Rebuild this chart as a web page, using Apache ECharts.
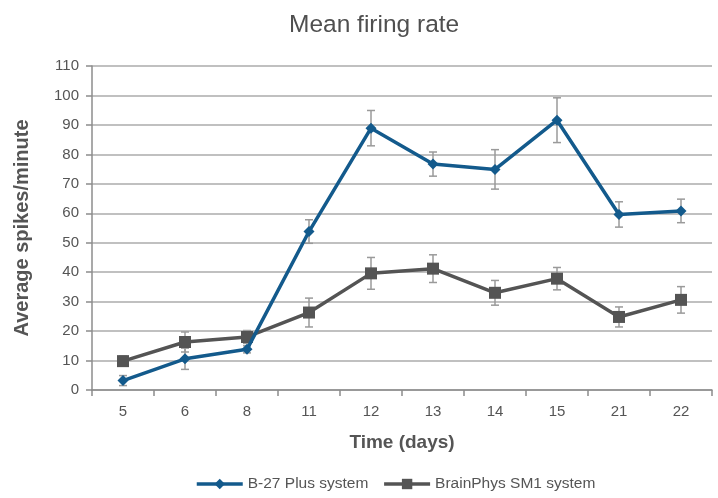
<!DOCTYPE html>
<html><head><meta charset="utf-8">
<script src="https://cdn.jsdelivr.net/npm/echarts@6/dist/echarts.min.js"></script>
<style>html,body{margin:0;padding:0;background:#fff}#c{width:718px;height:498px}</style>
</head><body><div id="c"></div>
<script>
const categories = ['5','6','8','11','12','13','14','15','21','22'];
const b27Values = [3.2, 10.6, 13.8, 53.8, 88.9, 76.7, 74.9, 91.6, 59.6, 60.8];
const b27Errors = [1.7, 3.6, 1.2, 4.0, 6.0, 4.1, 6.7, 7.6, 4.3, 4.0];
const smValues = [9.8, 16.3, 18.0, 26.3, 39.6, 41.2, 33.0, 37.8, 24.8, 30.6];
const smErrors = [1.7, 3.4, 2.2, 4.9, 5.4, 4.7, 4.2, 3.8, 3.4, 4.5];
const yMin = 0, yMax = 110, yStep = 10;

const FONT = '"Liberation Sans", Arial, sans-serif';
const TXT = '#555555';

function errSeries(vals, errs, name) {
  return {
    type: 'custom', name: name, silent: true, z: 1,
    data: vals.map((v, i) => [i, v - errs[i], v + errs[i]]),
    renderItem: function (params, api) {
      const lo = api.coord([api.value(0), api.value(1)]);
      const hi = api.coord([api.value(0), api.value(2)]);
      const w = 4;
      const st = { stroke: '#9a9a9a', lineWidth: 1.5 };
      return { type: 'group', children: [
        { type: 'line', shape: { x1: lo[0], y1: lo[1], x2: hi[0], y2: hi[1] }, style: st },
        { type: 'line', shape: { x1: lo[0]-w, y1: lo[1], x2: lo[0]+w, y2: lo[1] }, style: st },
        { type: 'line', shape: { x1: hi[0]-w, y1: hi[1], x2: hi[0]+w, y2: hi[1] }, style: st }
      ]};
    }
  };
}

const chart = echarts.init(document.getElementById('c'));
chart.setOption({
  animation: false,
  textStyle: { fontFamily: FONT },
  title: { text: 'Mean firing rate', left: 284, top: 8,
    textStyle: { fontFamily: FONT, fontSize: 24.5, fontWeight: 'normal', color: '#4f4f4f' } },
  grid: { left: 92, right: 6, top: 66, bottom: 108, containLabel: false },
  legend: {
    bottom: 1, left: 190, itemWidth: 46, itemHeight: 13, itemGap: 14,
    data: ['B-27 Plus system', 'BrainPhys SM1 system'],
    lineStyle: { width: 3.5 },
    textStyle: { fontFamily: FONT, fontSize: 15.5, color: TXT }
  },
  xAxis: {
    type: 'category', data: categories,
    name: 'Time (days)', nameLocation: 'middle', nameGap: 43,
    nameTextStyle: { fontFamily: FONT, fontSize: 19, fontWeight: 'bold', color: TXT },
    axisLine: { lineStyle: { color: '#8c8c8c', width: 1.5 } },
    axisTick: { show: true, length: 6, lineStyle: { color: '#8c8c8c', width: 1.5 } },
    axisLabel: { fontFamily: FONT, fontSize: 15, color: TXT, margin: 14 },
    splitLine: { show: false }
  },
  yAxis: {
    type: 'value', min: yMin, max: yMax, interval: yStep,
    name: 'Average spikes/minute', nameLocation: 'middle', nameGap: 60, nameRotate: 90,
    nameTextStyle: { fontFamily: FONT, fontSize: 20, fontWeight: 'bold', color: TXT },
    axisLine: { show: true, lineStyle: { color: '#8c8c8c', width: 1.5 } },
    axisTick: { show: true, length: 6, lineStyle: { color: '#8c8c8c', width: 1.5 } },
    axisLabel: { fontFamily: FONT, fontSize: 15, color: TXT, margin: 13 },
    splitLine: { lineStyle: { color: '#ababab', width: 1.5 } }
  },
  series: [
    errSeries(b27Values, b27Errors, 'errB27'),
    errSeries(smValues, smErrors, 'errSM'),
    { type: 'line', name: 'B-27 Plus system', data: b27Values, z: 3,
      symbol: 'diamond', symbolSize: 11,
      lineStyle: { color: '#135a8c', width: 3.5 },
      itemStyle: { color: '#135a8c' } },
    { type: 'line', name: 'BrainPhys SM1 system', data: smValues, z: 2,
      symbol: 'rect', symbolSize: 12,
      lineStyle: { color: '#545454', width: 3.5 },
      itemStyle: { color: '#545454' } }
  ]
});
</script></body></html>
